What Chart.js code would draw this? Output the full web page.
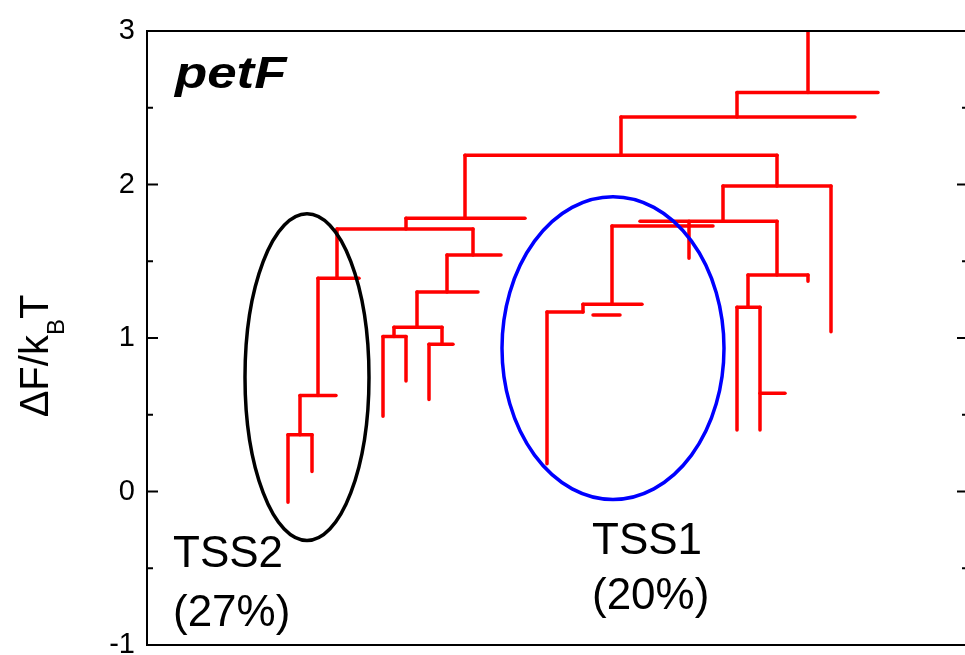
<!DOCTYPE html>
<html>
<head>
<meta charset="utf-8">
<script src="https://cdn.jsdelivr.net/npm/chart.js@4.4.1/dist/chart.umd.min.js"></script>
<style>
html, body { margin: 0; padding: 0; overflow: hidden; background: #fff; }
#wrap { width: 975px; height: 655px; }
</style>
</head>
<body>
<div id="wrap"><canvas id="graph"></canvas></div>
<script>
// disconnectivity tree: horizontal bars (energy level, x from, x to)
const hLevel = [2.60, 2.44, 2.19, 1.99, 1.76, 1.73, 1.78, 1.71, 1.54, 1.30, 1.07, 1.01, 0.96, 1.39, 0.625, 0.37, 1.41, 1.20, 0.64, 1.22, 1.17, 1.15];
const hFrom  = [590, 474, 318, 576, 493, 465, 259, 190, 300, 270, 247, 236, 282, 171, 153, 141, 601, 590, 613, 436, 400, 446];
const hTo    = [731, 708, 630, 684, 630, 566, 378, 326, 354, 331, 295, 259, 306, 212, 189, 165, 661, 613, 638, 495, 436, 473];

// vertical branches (x, upper level, lower level)
const vX     = [661, 590, 474, 318, 630, 684, 576, 630, 542, 661, 601, 590, 613, 465, 436, 400, 259, 326, 300, 270, 295, 282, 247, 236, 259, 190, 171, 153, 141, 165];
const vTop   = [3.0, 2.60, 2.44, 2.19, 2.19, 1.99, 1.99, 1.76, 1.76, 1.41, 1.41, 1.20, 1.20, 1.73, 1.22, 1.17, 1.78, 1.71, 1.54, 1.30, 1.07, 0.96, 1.07, 1.01, 1.01, 1.71, 1.39, 0.625, 0.37, 0.37];
const vBot   = [2.60, 2.44, 2.19, 1.78, 1.99, 1.04, 1.76, 1.41, 1.52, 1.37, 1.20, 0.40, 0.40, 1.22, 1.17, 0.18, 1.71, 1.54, 1.30, 1.07, 0.96, 0.60, 1.01, 0.49, 0.72, 1.39, 0.625, 0.37, -0.07, 0.13];

// y axis ticks
const yTicks = [-1, 0, 1, 2, 3];

// circled groups
const groupNames  = ["TSS2", "TSS1"];
const groupShares = ["(27%)", "(20%)"];
const groupCx     = [160, 466];
const groupCy     = [0.745, 0.934];
const groupRx     = [62, 111];
const groupRy     = [1.064, 0.986];
const groupColor  = ["#000000", "#0000ff"];
const labelX      = [26, 445];
const labelY1     = [-0.495, -0.41];
const labelY2     = [-0.879, -0.768];

const segments = [];
hLevel.forEach((lv, i) => segments.push([{ x: hFrom[i], y: lv }, { x: hTo[i], y: lv }]));
vX.forEach((x, i) => segments.push([{ x: x, y: vTop[i] }, { x: x, y: vBot[i] }]));

const FONT = "'Liberation Sans', Arial, sans-serif";

// frame, inward ticks, ellipses and labels
const decor = {
    id: "decor",
    afterDraw(chart) {
        const ctx = chart.ctx;
        const a = chart.chartArea;
        const xs = chart.scales.x, ys = chart.scales.y;
        ctx.save();
        ctx.strokeStyle = "#000";
        ctx.lineWidth = 2;
        ctx.strokeRect(a.left, a.top, a.right - a.left, a.bottom - a.top);

        for (let v = -1; v <= 3; v += 0.5) {
            const py = ys.getPixelForValue(v);
            const len = Number.isInteger(v) ? 11 : 6;
            ctx.beginPath();
            ctx.moveTo(a.left, py); ctx.lineTo(a.left + len, py);
            ctx.moveTo(a.right, py); ctx.lineTo(a.right - len, py);
            ctx.stroke();
        }

        ctx.lineWidth = 3.5;
        groupNames.forEach((name, i) => {
            const cx = xs.getPixelForValue(groupCx[i]);
            const cy = ys.getPixelForValue(groupCy[i]);
            const rx = xs.getPixelForValue(groupCx[i] + groupRx[i]) - cx;
            const ry = cy - ys.getPixelForValue(groupCy[i] + groupRy[i]);
            ctx.strokeStyle = groupColor[i];
            ctx.beginPath();
            ctx.ellipse(cx, cy, rx, ry, 0, 0, Math.PI * 2);
            ctx.stroke();

            ctx.fillStyle = "#000";
            ctx.font = "44px " + FONT;
            ctx.textBaseline = "alphabetic";
            ctx.textAlign = "left";
            ctx.fillText(name, xs.getPixelForValue(labelX[i]), ys.getPixelForValue(labelY1[i]));
            ctx.fillText(groupShares[i], xs.getPixelForValue(labelX[i]), ys.getPixelForValue(labelY2[i]));
        });

        // gene name, a bit wider than the plain font
        ctx.save();
        ctx.fillStyle = "#000";
        ctx.font = "italic bold 44px " + FONT;
        ctx.translate(a.left + 28, a.top + 57);
        ctx.scale(1.2, 1);
        ctx.fillText("petF", 0, 0);
        ctx.restore();

        // y title with subscript
        ctx.translate(48, 356);
        ctx.rotate(-Math.PI / 2);
        const big = "40px " + FONT, small = "24px " + FONT;
        ctx.font = big;
        const w1 = ctx.measureText("\u0394F/k").width;
        const w3 = ctx.measureText("T").width;
        ctx.font = small;
        const w2 = ctx.measureText("B").width;
        let x0 = -(w1 + w2 + w3) / 2;
        ctx.font = big;
        ctx.fillText("\u0394F/k", x0, 0);
        ctx.font = small;
        ctx.fillText("B", x0 + w1, 16);
        ctx.font = big;
        ctx.fillText("T", x0 + w1 + w2, 0);
        ctx.restore();
    }
};

new Chart(document.getElementById("graph"), {
    type: "scatter",
    data: {
        datasets: segments.map(seg => ({
            data: seg,
            showLine: true,
            borderColor: "#ff0000",
            borderWidth: 3.5,
            borderCapStyle: "round",
            pointRadius: 0,
            pointHoverRadius: 0
        }))
    },
    options: {
        responsive: true,
        maintainAspectRatio: false,
        animation: false,
        events: [],
        layout: { padding: { left: 0, right: 7, top: 31, bottom: 10 } },
        plugins: { legend: { display: false }, tooltip: { enabled: false } },
        scales: {
            x: { type: "linear", min: 0, max: 821, display: false },
            y: {
                type: "linear",
                min: -1,
                max: 3,
                afterFit: (scale) => {
                    scale.width = 147;
                    scale.paddingTop = 0;
                    scale.paddingBottom = 0;
                },
                afterBuildTicks: (scale) => { scale.ticks = yTicks.map(v => ({ value: v })); },
                grid: { display: false, drawTicks: false },
                border: { display: false },
                ticks: {
                    color: "#000",
                    padding: 12,
                    font: { family: FONT, size: 29 },
                    callback: (v) => String(v)
                }
            }
        }
    },
    plugins: [decor]
});
</script>
</body>
</html>
